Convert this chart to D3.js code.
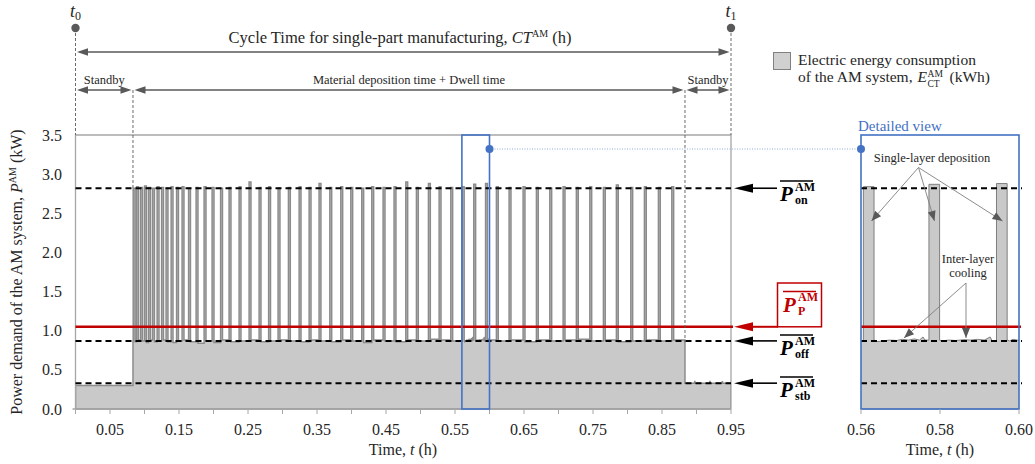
<!DOCTYPE html>
<html>
<head>
<meta charset="utf-8">
<script src="https://cdn.jsdelivr.net/npm/d3@7"></script>
<style>
  html, body { margin: 0; padding: 0; background: #fff; }
  svg { display: block; font-family: "Liberation Serif", "DejaVu Serif", serif; }
</style>
</head>
<body>
<div id="chart"></div>
<script>
const WIDTH  = 1035;
const HEIGHT = 464;

// time markers (h)
const T_ON  = 0.0833;   // end of first standby
const T_OFF = 0.8833;   // end of deposition + dwell
const T_END = 0.95;
const PULSE_DUR = 0.0027;

// power levels (kW)
const STB_START = 0.30;
const OFF_START = 0.87;

// start of each single-layer deposition pulse (h)
const pulseStart = [
  0.0836, 0.0886, 0.0944, 0.1001, 0.1059, 0.1117, 0.1183, 0.1248, 0.1313, 0.1386,
  0.1465, 0.1545, 0.1639, 0.1748, 0.1864, 0.1980, 0.2103, 0.2226, 0.2371, 0.2516,
  0.2661, 0.2799, 0.2936, 0.3086, 0.3241, 0.3386, 0.3530, 0.3686, 0.3845, 0.3990,
  0.4149, 0.4294, 0.4458, 0.4617, 0.4787, 0.4941, 0.5115, 0.5270, 0.5439, 0.5606,
  0.5772, 0.5943, 0.6100, 0.6284, 0.6487, 0.6680, 0.6874, 0.7067, 0.7259, 0.7454,
  0.7651, 0.7839, 0.8048, 0.8245, 0.8448, 0.8642
];
// peak power of each pulse (kW)
const pulsePeak = [
  2.82, 2.84, 2.83, 2.85, 2.83, 2.82, 2.84, 2.83, 2.82, 2.84,
  2.83, 2.84, 2.82, 2.83, 2.84, 2.83, 2.82, 2.83, 2.84, 2.90,
  2.83, 2.84, 2.82, 2.83, 2.84, 2.83, 2.88, 2.83, 2.84, 2.83,
  2.82, 2.84, 2.83, 2.84, 2.90, 2.83, 2.88, 2.84, 2.83, 2.84,
  2.87, 2.88, 2.84, 2.83, 2.84, 2.83, 2.82, 2.84, 2.83, 2.84,
  2.83, 2.86, 2.83, 2.84, 2.83, 2.84
];
// cooling level after each pulse (kW)
const gapLevel = [
  0.86, 0.88, 0.87, 0.85, 0.88, 0.86, 0.87, 0.88, 0.86, 0.85,
  0.87, 0.88, 0.86, 0.84, 0.87, 0.85, 0.88, 0.86, 0.87, 0.88,
  0.86, 0.87, 0.88, 0.87, 0.86, 0.88, 0.87, 0.86, 0.88, 0.87,
  0.85, 0.88, 0.87, 0.86, 0.88, 0.87, 0.89, 0.88, 0.87, 0.88,
  0.88, 0.88, 0.87, 0.88, 0.86, 0.88, 0.87, 0.88, 0.89, 0.87,
  0.88, 0.86, 0.87, 0.88, 0.87, 0.88
];
// readings inside the detailed window (h, kW)
const offSamples = [
  [0.5640, 0.86], [0.5655, 0.87], [0.5672, 0.88], [0.5690, 0.875], [0.5705, 0.89],
  [0.5720, 0.88], [0.5735, 0.895], [0.5748, 0.88], [0.5757, 0.92], [0.5762, 0.88],
  [0.5805, 0.87], [0.5822, 0.88], [0.5840, 0.875], [0.5860, 0.885], [0.5878, 0.88],
  [0.5895, 0.89], [0.5912, 0.88], [0.5927, 0.92], [0.5932, 0.87],
  [0.5976, 0.87], [0.5985, 0.89], [0.5995, 0.88]
];
// final standby readings (h, kW)
const standbyTail = [
  [T_OFF, 0.33], [0.8970, 0.33], [0.8975, 0.36], [0.8980, 0.33],
  [0.9190, 0.33], [0.9195, 0.36], [0.9200, 0.33],
  [0.9370, 0.33], [0.9375, 0.355], [0.9380, 0.33], [T_END, 0.33]
];

// mean power levels
const refNames  = ["on", "off", "stb"];
const refValues = [2.82, 0.87, 0.33];
const P_MEAN    = 1.05;

const xTicks  = d3.range(0, 0.951, 0.05);
const xLabels = [0.05, 0.15, 0.25, 0.35, 0.45, 0.55, 0.65, 0.75, 0.85, 0.95];
const yTicks  = [0, 0.5, 1.0, 1.5, 2.0, 2.5, 3.0, 3.5];
const xDetailTicks = [0.56, 0.58, 0.60];
const DETAIL = [0.56, 0.60];

const GRAY_TXT = "#595959";
const BLUE = "#4472c4";
const RED  = "#c00000";

// build power signal
const signal = [[0, STB_START], [T_ON, STB_START], [T_ON, OFF_START]];
pulseStart.forEach((s, i) => {
  const last = signal[signal.length - 1];
  offSamples.filter(d => d[0] > last[0] && d[0] < s).forEach(d => signal.push(d));
  const lvl = signal[signal.length - 1][1];
  signal.push([s, lvl], [s, pulsePeak[i]], [s + PULSE_DUR, pulsePeak[i]], [s + PULSE_DUR, gapLevel[i]]);
});
offSamples.filter(d => d[0] > signal[signal.length - 1][0]).forEach(d => signal.push(d));
signal.push([T_OFF, gapLevel[gapLevel.length - 1]]);
standbyTail.forEach(d => signal.push(d));

// svg
const svg = d3.select("#chart").append("svg")
  .attr("width", WIDTH).attr("height", HEIGHT);

const x  = d3.scaleLinear().domain([0, T_END]).range([75.5, 731]);
const y  = d3.scaleLinear().domain([0, 3.5]).range([409, 135]);
const xd = d3.scaleLinear().domain(DETAIL).range([861, 1019]);

const defs = svg.append("defs");
defs.append("clipPath").attr("id", "clipMain")
  .append("rect").attr("x", x(0)).attr("y", 120).attr("width", x(T_END) - x(0)).attr("height", 300);
defs.append("clipPath").attr("id", "clipDetail")
  .append("rect").attr("x", xd(DETAIL[0])).attr("y", 120).attr("width", xd(DETAIL[1]) - xd(DETAIL[0])).attr("height", 300);

function arrowHead(g, tipX, tipY, fromX, fromY, len, half, color) {
  const a = Math.atan2(tipY - fromY, tipX - fromX);
  const bx = tipX - len * Math.cos(a), by = tipY - len * Math.sin(a);
  const px = -Math.sin(a) * half, py = Math.cos(a) * half;
  g.append("path")
    .attr("d", `M${tipX},${tipY}L${bx + px},${by + py}L${bx - px},${by - py}Z`)
    .attr("fill", color);
}

function doubleArrow(g, x1, x2, yy) {
  g.append("line").attr("x1", x1 + 4).attr("x2", x2 - 4).attr("y1", yy).attr("y2", yy)
    .attr("stroke", GRAY_TXT).attr("stroke-width", 1.6);
  arrowHead(g, x1 + 1.5, yy, x2, yy, 11, 3.8, GRAY_TXT);
  arrowHead(g, x2 - 1.5, yy, x1, yy, 11, 3.8, GRAY_TXT);
}

// ---- main plot ----
const main = svg.append("g");

main.append("path").datum(signal)
  .attr("clip-path", "url(#clipMain)")
  .attr("d", d3.area().x(d => x(d[0])).y0(y(0)).y1(d => y(d[1])))
  .attr("fill", "#c9c9c9")
  .attr("stroke", "#8c8c8c")
  .attr("stroke-width", 1.5);

// frame
main.append("path")
  .attr("d", `M${x(0)},${y(0)}V${y(3.5)}H${x(T_END)}V${y(0)}`)
  .attr("fill", "none").attr("stroke", "#a6a6a6").attr("stroke-width", 1.3);

// x axis
const xAxis = main.append("g").attr("transform", `translate(0,${y(0)})`);
xAxis.append("line").attr("x1", x(0) - 3).attr("x2", x(T_END)).attr("stroke", "#a6a6a6").attr("stroke-width", 1.3);
xAxis.selectAll(".tk").data(xTicks).join("line")
  .attr("x1", d => x(d)).attr("x2", d => x(d)).attr("y1", 0).attr("y2", 5)
  .attr("stroke", "#a6a6a6");
xAxis.selectAll(".lb").data(xLabels).join("text")
  .attr("x", d => x(d)).attr("y", 26).attr("text-anchor", "middle")
  .attr("font-size", 16).attr("fill", "#262626")
  .text(d3.format(".2f"));

// y axis labels
main.selectAll(".yl").data(yTicks).join("text")
  .attr("x", 62).attr("y", d => y(d) + 5.5).attr("text-anchor", "end")
  .attr("font-size", 16).attr("fill", "#262626")
  .text(d3.format(".1f"));

// axis titles
function timeTitle(cx) {
  const t = svg.append("text").attr("x", cx).attr("y", 455).attr("text-anchor", "middle")
    .attr("font-size", 16).attr("fill", "#262626");
  t.append("tspan").text("Time, ");
  t.append("tspan").attr("font-style", "italic").text("t");
  t.append("tspan").text(" (h)");
}
timeTitle(403);
timeTitle(940);

const yt = svg.append("text")
  .attr("transform", "translate(22,272) rotate(-90)")
  .attr("text-anchor", "middle").attr("font-size", 16).attr("fill", "#262626");
yt.append("tspan").text("Power demand of the AM system, ");
yt.append("tspan").attr("font-style", "italic").text("P");
yt.append("tspan").attr("font-size", 10).attr("dy", -6).text("AM");
yt.append("tspan").attr("dy", 6).text(" (kW)");

// reference lines (main)
refValues.forEach(v => {
  main.append("line").attr("x1", x(0)).attr("x2", x(T_END)).attr("y1", y(v)).attr("y2", y(v))
    .attr("stroke", "#000").attr("stroke-width", 2).attr("stroke-dasharray", "6,4");
});
main.append("line").attr("x1", x(0)).attr("x2", x(T_END) + 2).attr("y1", y(P_MEAN)).attr("y2", y(P_MEAN))
  .attr("stroke", RED).attr("stroke-width", 2.5);

// zoom window
main.append("rect")
  .attr("x", x(DETAIL[0])).attr("y", y(3.5))
  .attr("width", x(DETAIL[1]) - x(DETAIL[0])).attr("height", y(0) - y(3.5))
  .attr("fill", "none").attr("stroke", BLUE).attr("stroke-width", 1.6);

// ---- labels for mean levels (stacked sup/sub) ----
function powerLabel(x0, over, sub, color) {
  svg.append("line").attr("x1", x0).attr("x2", x0 + 33).attr("y1", over).attr("y2", over)
    .attr("stroke", color).attr("stroke-width", 1.4);
  const t = svg.append("text").attr("x", x0).attr("y", over + 20)
    .attr("fill", color).attr("font-weight", "bold");
  t.append("tspan").attr("font-size", 21).attr("font-style", "italic").text("P");
  t.append("tspan").attr("x", x0 + 15).attr("dy", -10.5).attr("font-size", 12).text("AM");
  t.append("tspan").attr("x", x0 + 15).attr("dy", 13.5).attr("font-size", 12).text(sub);
}
const refOver = [181, 335, 377];
refValues.forEach((v, i) => {
  const yy = y(v);
  svg.append("line").attr("x1", 750).attr("x2", 777).attr("y1", yy).attr("y2", yy)
    .attr("stroke", "#000").attr("stroke-width", 1.6);
  arrowHead(svg, 734, yy, 777, yy, 19, 4.5, "#000");
  powerLabel(780, refOver[i], refNames[i], "#000");
});
// P_P box
svg.append("rect").attr("x", 777.5).attr("y", 283).attr("width", 44).attr("height", y(P_MEAN) - 283)
  .attr("fill", "#fff").attr("stroke", RED).attr("stroke-width", 1.5);
svg.append("line").attr("x1", 750).attr("x2", 778).attr("y1", y(P_MEAN)).attr("y2", y(P_MEAN))
  .attr("stroke", RED).attr("stroke-width", 2);
arrowHead(svg, 734, y(P_MEAN), 777, y(P_MEAN), 19, 4.5, RED);
powerLabel(783, 291.5, "P", RED);

// ---- detail view ----
const det = svg.append("g");
det.append("path").datum(signal)
  .attr("clip-path", "url(#clipDetail)")
  .attr("d", d3.area().x(d => xd(d[0])).y0(y(0)).y1(d => y(d[1])))
  .attr("fill", "#c9c9c9")
  .attr("stroke", "#7f7f7f")
  .attr("stroke-width", 1);
refValues.forEach(v => {
  det.append("line").attr("x1", xd(DETAIL[0])).attr("x2", xd(DETAIL[1]) + 3).attr("y1", y(v)).attr("y2", y(v))
    .attr("stroke", "#000").attr("stroke-width", 2).attr("stroke-dasharray", "6,4");
});
det.append("line").attr("x1", xd(DETAIL[0])).attr("x2", xd(DETAIL[1]) + 2).attr("y1", y(P_MEAN)).attr("y2", y(P_MEAN))
  .attr("stroke", RED).attr("stroke-width", 2.5);
det.append("rect")
  .attr("x", xd(DETAIL[0])).attr("y", y(3.5))
  .attr("width", xd(DETAIL[1]) - xd(DETAIL[0])).attr("height", y(0) - y(3.5))
  .attr("fill", "none").attr("stroke", BLUE).attr("stroke-width", 1.6);
det.selectAll(".dt").data(xDetailTicks).join("line")
  .attr("x1", d => xd(d)).attr("x2", d => xd(d)).attr("y1", y(0)).attr("y2", y(0) + 5)
  .attr("stroke", "#a6a6a6");
det.selectAll(".dl").data(xDetailTicks).join("text")
  .attr("x", d => xd(d)).attr("y", y(0) + 26).attr("text-anchor", "middle")
  .attr("font-size", 16).attr("fill", "#262626")
  .text(d3.format(".2f"));
svg.append("text").attr("x", 858).attr("y", 131).attr("font-size", 15).attr("fill", BLUE)
  .text("Detailed view");

// connector from main window to detail view
svg.append("line").attr("x1", x(DETAIL[1])).attr("x2", xd(DETAIL[0])).attr("y1", 149).attr("y2", 149)
  .attr("stroke", "#8faadc").attr("stroke-width", 1).attr("stroke-dasharray", "1,1.5");
svg.append("circle").attr("cx", x(DETAIL[1])).attr("cy", 149).attr("r", 4).attr("fill", BLUE);
svg.append("circle").attr("cx", xd(DETAIL[0])).attr("cy", 149).attr("r", 4).attr("fill", BLUE);

// detail annotations
const ann = svg.append("g");
ann.append("text").attr("x", 932).attr("y", 162).attr("text-anchor", "middle")
  .attr("font-size", 12.5).attr("fill", "#262626").text("Single-layer deposition");
const depoTargets = [[871.5, 221], [934.5, 221], [1002.5, 221]];
depoTargets.forEach(([tx, ty]) => {
  ann.append("line").attr("x1", 918.5).attr("y1", 167.5).attr("x2", tx).attr("y2", ty)
    .attr("stroke", "#7f7f7f").attr("stroke-width", 0.9);
  arrowHead(ann, tx, ty, 918.5, 167.5, 10, 4, "#595959");
});
ann.append("text").attr("x", 968).attr("y", 263).attr("text-anchor", "middle")
  .attr("font-size", 12.5).attr("fill", "#262626").text("Inter-layer");
ann.append("text").attr("x", 968).attr("y", 277).attr("text-anchor", "middle")
  .attr("font-size", 12.5).attr("fill", "#262626").text("cooling");
const coolTargets = [[904, 338], [966, 338]];
coolTargets.forEach(([tx, ty]) => {
  ann.append("line").attr("x1", 966).attr("y1", 283).attr("x2", tx).attr("y2", ty)
    .attr("stroke", "#7f7f7f").attr("stroke-width", 0.9);
  arrowHead(ann, tx, ty, 966, 283, 10, 4, "#595959");
});

// ---- top annotation ----
const topG = svg.append("g");
[[0, "0"], [T_END, "1"]].forEach(([t, s]) => {
  const cx = x(t);
  topG.append("line").attr("x1", cx).attr("x2", cx).attr("y1", 28).attr("y2", y(3.5))
    .attr("stroke", GRAY_TXT).attr("stroke-width", 0.9).attr("stroke-dasharray", "3,2");
  topG.append("circle").attr("cx", cx).attr("cy", 28).attr("r", 4.2).attr("fill", GRAY_TXT);
  const lt = topG.append("text").attr("x", cx).attr("y", 17).attr("text-anchor", "middle")
    .attr("font-size", 18).attr("fill", "#262626");
  lt.append("tspan").attr("font-style", "italic").text("t");
  lt.append("tspan").attr("font-size", 12).attr("dy", 3).text(s);
});
[[T_ON, y(pulsePeak[0]) + 2], [T_OFF, y(gapLevel[gapLevel.length - 1]) + 2]].forEach(([t, yb]) => {
  topG.append("line").attr("x1", x(t)).attr("x2", x(t)).attr("y1", 90).attr("y2", yb)
    .attr("stroke", GRAY_TXT).attr("stroke-width", 0.9).attr("stroke-dasharray", "3,2");
});

doubleArrow(topG, x(0), x(T_END), 52);
doubleArrow(topG, x(0), x(T_ON), 90);
doubleArrow(topG, x(T_ON), x(T_OFF), 90);
doubleArrow(topG, x(T_OFF), x(T_END), 90);

const ct = topG.append("text").attr("x", 400).attr("y", 43).attr("text-anchor", "middle")
  .attr("font-size", 16.5).attr("fill", "#262626");
ct.append("tspan").text("Cycle Time for single-part manufacturing, ");
ct.append("tspan").attr("font-style", "italic").text("CT");
ct.append("tspan").attr("font-size", 10).attr("dy", -6).text("AM");
ct.append("tspan").attr("dy", 6).text(" (h)");

topG.append("text").attr("x", (x(0) + x(T_ON)) / 2).attr("y", 84).attr("text-anchor", "middle")
  .attr("font-size", 12.5).attr("fill", "#262626").text("Standby");
topG.append("text").attr("x", (x(T_ON) + x(T_OFF)) / 2).attr("y", 84).attr("text-anchor", "middle")
  .attr("font-size", 12.5).attr("fill", "#262626").text("Material deposition time + Dwell time");
topG.append("text").attr("x", (x(T_OFF) + x(T_END)) / 2).attr("y", 84).attr("text-anchor", "middle")
  .attr("font-size", 12.5).attr("fill", "#262626").text("Standby");

// ---- legend ----
const leg = svg.append("g");
leg.append("rect").attr("x", 773.5).attr("y", 52.5).attr("width", 17).attr("height", 17)
  .attr("fill", "#d0d0d0").attr("stroke", "#808080").attr("stroke-width", 1);
leg.append("text").attr("x", 798).attr("y", 65).attr("font-size", 15.5).attr("fill", "#262626")
  .text("Electric energy consumption");
const l2 = leg.append("text").attr("x", 798).attr("y", 82).attr("font-size", 15.5).attr("fill", "#262626");
l2.append("tspan").text("of the AM system,");
const ex = 798 + l2.node().getComputedTextLength() + 5;
l2.append("tspan").attr("x", ex).attr("font-style", "italic").text("E");
l2.append("tspan").attr("x", ex + 10).attr("dy", -5).attr("font-size", 9.5).text("AM");
l2.append("tspan").attr("x", ex + 10).attr("dy", 9.5).attr("font-size", 9.5).text("CT");
l2.append("tspan").attr("x", ex + 32).attr("dy", -4.5).text("(kWh)");
</script>
</body>
</html>
